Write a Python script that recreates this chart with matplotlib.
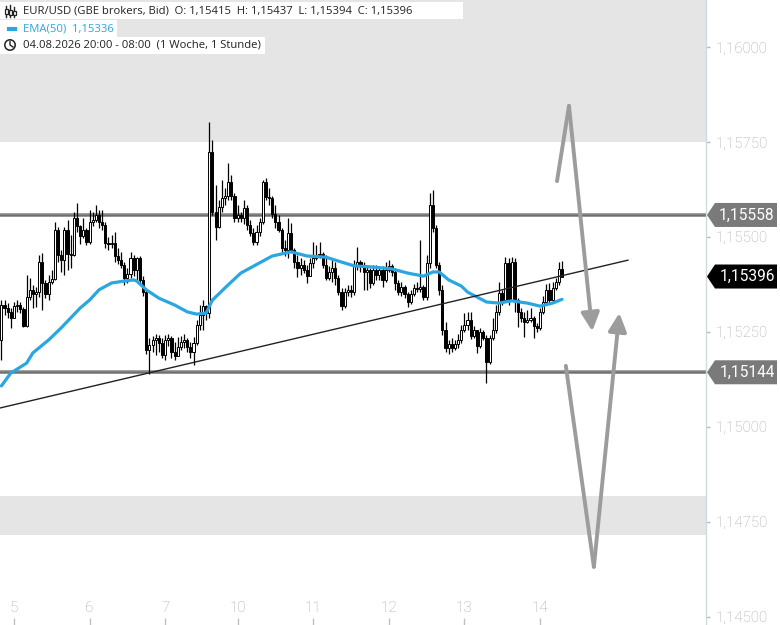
import numpy as np
import matplotlib
matplotlib.use("Agg")
import matplotlib.pyplot as plt
from matplotlib.patches import Rectangle, Polygon, Circle
from matplotlib.lines import Line2D
from matplotlib.ticker import FuncFormatter, FixedLocator
from matplotlib.transforms import IdentityTransform

plt.rcParams['font.family'] = ['Roboto', 'DejaVu Sans']

# ---------------- data (hourly candles, EUR/USD) ----------------
first_open = 1.15229
closes = [
    1.15321, 1.15313, 1.15303, 1.15287, 1.15318, 1.15321, 1.15311, 1.15266, 1.15342, 1.15361,
    1.15350, 1.15355, 1.15434, 1.15379, 1.15350, 1.15382, 1.15389, 1.15518, 1.15453, 1.15439,
    1.15518, 1.15455, 1.15453, 1.15550, 1.15529, 1.15503, 1.15518, 1.15487, 1.15539, 1.15545,
    1.15558, 1.15539, 1.15532, 1.15484, 1.15482, 1.15484, 1.15450, 1.15439, 1.15426, 1.15392,
    1.15403, 1.15445, 1.15413, 1.15445, 1.15387, 1.15355, 1.15203, 1.15216, 1.15229, 1.15234,
    1.15221, 1.15189, 1.15229, 1.15234, 1.15197, 1.15187, 1.15211, 1.15224, 1.15229, 1.15211,
    1.15197, 1.15221, 1.15268, 1.15295, 1.15318, 1.15300, 1.15724, 1.15566, 1.15526, 1.15579,
    1.15603, 1.15608, 1.15645, 1.15608, 1.15550, 1.15558, 1.15550, 1.15576, 1.15532, 1.15511,
    1.15487, 1.15513, 1.15539, 1.15645, 1.15605, 1.15603, 1.15561, 1.15539, 1.15518, 1.15471,
    1.15466, 1.15511, 1.15466, 1.15434, 1.15418, 1.15426, 1.15413, 1.15397, 1.15432, 1.15445,
    1.15453, 1.15455, 1.15426, 1.15392, 1.15408, 1.15418, 1.15392, 1.15355, 1.15318, 1.15355,
    1.15361, 1.15355, 1.15426, 1.15434, 1.15424, 1.15408, 1.15413, 1.15379, 1.15413, 1.15400,
    1.15413, 1.15387, 1.15413, 1.15424, 1.15408, 1.15379, 1.15355, 1.15368, 1.15350, 1.15329,
    1.15350, 1.15366, 1.15363, 1.15368, 1.15342, 1.15432, 1.15584, 1.15524, 1.15426, 1.15361,
    1.15255, 1.15208, 1.15218, 1.15208, 1.15218, 1.15229, 1.15255, 1.15268, 1.15282, 1.15239,
    1.15255, 1.15213, 1.15250, 1.15234, 1.15171, 1.15234, 1.15255, 1.15303, 1.15353, 1.15334,
    1.15432, 1.15334, 1.15434, 1.15334, 1.15303, 1.15287, 1.15276, 1.15282, 1.15287, 1.15266,
    1.15261, 1.15303, 1.15329, 1.15361, 1.15334, 1.15366, 1.15382, 1.15415, 1.15396,
]
highs = [
    1.15334, 1.15334, 1.15326, 1.15313, 1.15329, 1.15334, 1.15329, 1.15316, 1.15400, 1.15392,
    1.15374, 1.15368, 1.15453, 1.15458, 1.15387, 1.15400, 1.15413, 1.15539, 1.15526, 1.15466,
    1.15526, 1.15545, 1.15505, 1.15566, 1.15589, 1.15532, 1.15550, 1.15524, 1.15571, 1.15566,
    1.15584, 1.15571, 1.15571, 1.15539, 1.15500, 1.15505, 1.15513, 1.15471, 1.15461, 1.15434,
    1.15418, 1.15461, 1.15453, 1.15447, 1.15450, 1.15397, 1.15361, 1.15234, 1.15239, 1.15245,
    1.15242, 1.15234, 1.15242, 1.15245, 1.15239, 1.15224, 1.15237, 1.15239, 1.15245, 1.15234,
    1.15224, 1.15237, 1.15282, 1.15321, 1.15334, 1.15321, 1.15803, 1.15755, 1.15637, 1.15597,
    1.15650, 1.15629, 1.15695, 1.15663, 1.15616, 1.15584, 1.15566, 1.15597, 1.15584, 1.15545,
    1.15524, 1.15532, 1.15550, 1.15650, 1.15655, 1.15629, 1.15608, 1.15584, 1.15558, 1.15524,
    1.15492, 1.15550, 1.15537, 1.15471, 1.15453, 1.15445, 1.15439, 1.15426, 1.15445, 1.15487,
    1.15479, 1.15487, 1.15461, 1.15453, 1.15424, 1.15445, 1.15434, 1.15400, 1.15366, 1.15366,
    1.15374, 1.15374, 1.15439, 1.15474, 1.15439, 1.15434, 1.15426, 1.15418, 1.15426, 1.15426,
    1.15424, 1.15424, 1.15434, 1.15439, 1.15429, 1.15418, 1.15387, 1.15382, 1.15374, 1.15355,
    1.15361, 1.15376, 1.15382, 1.15492, 1.15374, 1.15453, 1.15616, 1.15624, 1.15532, 1.15434,
    1.15374, 1.15276, 1.15229, 1.15234, 1.15229, 1.15245, 1.15268, 1.15300, 1.15303, 1.15303,
    1.15266, 1.15255, 1.15261, 1.15255, 1.15242, 1.15242, 1.15287, 1.15321, 1.15382, 1.15361,
    1.15447, 1.15445, 1.15447, 1.15445, 1.15339, 1.15313, 1.15303, 1.15308, 1.15313, 1.15292,
    1.15274, 1.15313, 1.15345, 1.15376, 1.15379, 1.15382, 1.15392, 1.15434, 1.15437,
]
lows = [
    1.15176, 1.15295, 1.15287, 1.15261, 1.15292, 1.15303, 1.15300, 1.15263, 1.15263, 1.15334,
    1.15313, 1.15316, 1.15342, 1.15308, 1.15339, 1.15334, 1.15376, 1.15387, 1.15434, 1.15408,
    1.15400, 1.15413, 1.15418, 1.15450, 1.15513, 1.15482, 1.15497, 1.15479, 1.15482, 1.15529,
    1.15539, 1.15524, 1.15518, 1.15471, 1.15466, 1.15471, 1.15434, 1.15429, 1.15418, 1.15374,
    1.15379, 1.15392, 1.15397, 1.15387, 1.15376, 1.15345, 1.15192, 1.15139, 1.15197, 1.15189,
    1.15197, 1.15182, 1.15176, 1.15213, 1.15182, 1.15176, 1.15197, 1.15203, 1.15208, 1.15197,
    1.15182, 1.15163, 1.15216, 1.15255, 1.15255, 1.15282, 1.15287, 1.15558, 1.15492, 1.15524,
    1.15566, 1.15584, 1.15597, 1.15597, 1.15539, 1.15539, 1.15539, 1.15534, 1.15518, 1.15503,
    1.15479, 1.15479, 1.15503, 1.15534, 1.15597, 1.15584, 1.15550, 1.15524, 1.15513, 1.15461,
    1.15450, 1.15445, 1.15461, 1.15418, 1.15395, 1.15400, 1.15405, 1.15379, 1.15408, 1.15418,
    1.15439, 1.15445, 1.15418, 1.15387, 1.15387, 1.15382, 1.15374, 1.15347, 1.15308, 1.15313,
    1.15345, 1.15342, 1.15347, 1.15413, 1.15408, 1.15361, 1.15361, 1.15366, 1.15374, 1.15387,
    1.15387, 1.15368, 1.15382, 1.15408, 1.15397, 1.15361, 1.15347, 1.15345, 1.15339, 1.15316,
    1.15324, 1.15345, 1.15355, 1.15355, 1.15334, 1.15334, 1.15418, 1.15513, 1.15418, 1.15347,
    1.15242, 1.15197, 1.15192, 1.15197, 1.15203, 1.15208, 1.15221, 1.15250, 1.15255, 1.15232,
    1.15234, 1.15195, 1.15208, 1.15229, 1.15116, 1.15166, 1.15229, 1.15247, 1.15295, 1.15321,
    1.15329, 1.15321, 1.15334, 1.15303, 1.15263, 1.15276, 1.15237, 1.15274, 1.15276, 1.15234,
    1.15250, 1.15255, 1.15297, 1.15324, 1.15324, 1.15329, 1.15361, 1.15374, 1.15394,
]

# EMA(50) line (candle index, value)
ema_idx = [0, 3, 8, 10, 15, 19, 22, 25, 28, 31, 35, 39, 42, 43, 46, 50, 55, 59, 62, 65,
           67, 72, 76, 82, 86, 92, 97, 103, 108, 112, 118, 124, 129, 134, 137, 139, 142,
           146, 148, 154, 158, 162, 167, 171, 175, 178]
ema_vals = [1.15108, 1.15142, 1.15168, 1.15195, 1.15229, 1.15261, 1.15287, 1.15313, 1.15334,
            1.15361, 1.15379, 1.15384, 1.15387, 1.15384, 1.15361, 1.15339, 1.15321, 1.15303,
            1.15297, 1.15300, 1.15334, 1.15374, 1.15405, 1.15432, 1.15450, 1.15461, 1.15450,
            1.15447, 1.15434, 1.15424, 1.15421, 1.15416, 1.15405, 1.15397, 1.15408, 1.15408,
            1.15387, 1.15371, 1.15355, 1.15329, 1.15326, 1.15332, 1.15326, 1.15318, 1.15326,
            1.15336]

day_tick_idx = [4, 28, 52, 75, 99, 123, 147, 171]
day_labels = ['5', '6', '7', '10', '11', '12', '13', '14']
y_ticks = [1.1450, 1.1475, 1.1500, 1.1525, 1.1550, 1.1575, 1.1600]

resistance = 1.15558
support = 1.15144
last_price = 1.15396
upper_zone_bottom = 1.1575
lower_zone = (1.14716, 1.14818)

legend_row1 = "EUR/USD (GBE brokers, Bid)  O: 1,15415  H: 1,15437  L: 1,15394  C: 1,15396"
legend_row2 = "EMA(50)  1,15336"
legend_row3 = "04.08.2026 20:00 - 08:00  (1 Woche, 1 Stunde)"

# ---------------- figure ----------------
W, H = 780, 625
fig = plt.figure(figsize=(W / 100, H / 100), dpi=100)
fig.patch.set_facecolor('white')
ax = fig.add_axes([0, 0, 706 / W, 1])
ax.set_facecolor('white')

YMIN, YMAX = 1.144789, 1.161237
XMIN, XMAX = -0.44, 223.7
ax.set_xlim(XMIN, XMAX)
ax.set_ylim(YMIN, YMAX)

# zones
ax.axhspan(upper_zone_bottom, YMAX, color='#e5e5e5', lw=0, zorder=0)
ax.axhspan(lower_zone[0], lower_zone[1], color='#e5e5e5', lw=0, zorder=0)

# horizontal levels
for lv in (resistance, support):
    ax.axhline(lv, color='#8a8a8a', lw=2.6, zorder=1)
    ax.axhline(lv, color='#6e6e6e', lw=1.0, zorder=1)

# candles
n = len(closes)
x = np.arange(n)
opens = np.array([first_open] + closes[:-1])
c = np.array(closes)
hi = np.array(highs)
lo = np.array(lows)
ax.vlines(x, lo, hi, color='black', lw=0.9, zorder=3)
bottoms = np.minimum(opens, c)
heights = np.maximum(np.abs(c - opens), 0.00002)
fills = ['white' if cc >= oo else 'black' for oo, cc in zip(opens, c)]
ax.bar(x, heights, bottom=bottoms, width=0.68, color=fills, edgecolor='black',
       linewidth=0.7, zorder=4)

# EMA
ax.plot(ema_idx, ema_vals, color='#2aa6e0', lw=2.3, zorder=5, solid_capstyle='round')

# trend line
ax.plot([-0.44, 198.9], [1.15050, 1.15439], color='#222222', lw=1.0, zorder=6)

# gray scenario arrows
acol = '#9c9c9c'
astyle = '-|>,head_length=1.0,head_width=0.5'
ax.plot([176.4, 180.2], [1.15647, 1.15845], color=acol, lw=2.8, zorder=6,
        solid_capstyle='round')
ax.annotate('', xy=(187.6, 1.15252), xytext=(180.2, 1.15845),
            arrowprops=dict(arrowstyle=astyle, lw=2.8, color=acol, shrinkA=0, shrinkB=0,
                            mutation_scale=11), zorder=6)
ax.plot([179.2, 188.1], [1.15161, 1.14632], color=acol, lw=2.8, zorder=6,
        solid_capstyle='round')
ax.annotate('', xy=(196.2, 1.15300), xytext=(188.1, 1.14632),
            arrowprops=dict(arrowstyle=astyle, lw=2.8, color=acol, shrinkA=0, shrinkB=0,
                            mutation_scale=11), zorder=6)

# axes styling
for s in ('top', 'left', 'bottom'):
    ax.spines[s].set_visible(False)
ax.spines['right'].set_color('#d3d9e0')
ax.spines['right'].set_linewidth(1.0)

ax.yaxis.set_major_locator(FixedLocator(y_ticks))
ax.yaxis.set_major_formatter(FuncFormatter(lambda v, p: f"{v:.5f}".replace('.', ',')))
ax.tick_params(axis='y', left=False, right=True, labelleft=False, labelright=True,
               length=3, width=1, color='#b8b8b8', labelcolor='#a9a9a9',
               labelsize=10.8, pad=4)
ax.set_xticks(day_tick_idx)
ax.set_xticklabels(day_labels)
ax.tick_params(axis='x', direction='in', length=5, width=1, color='#c0c0c0',
               labelcolor='#a9a9a9', labelsize=11, pad=-17)
for lab in ax.get_yticklabels() + ax.get_xticklabels():
    lab.set_fontweight('light')

fig.canvas.draw()


def px(xp, yp):
    """figure pixel (from top-left) -> display coords"""
    return (xp, H - yp)


# right side price tags
def tag(price, color):
    yd = ax.transData.transform((0, price))[1]
    x0 = 706
    pts = [(x0 + 1, yd), (x0 + 9, yd + 12), (x0 + 71, yd + 12), (x0 + 71, yd - 12),
           (x0 + 9, yd - 12)]
    fig.add_artist(Polygon(pts, closed=True, transform=IdentityTransform(),
                           facecolor=color, edgecolor='none', zorder=10))
    fig.text((x0 + 41) / W, yd / H, f"{price:.5f}".replace('.', ','), color='white',
             fontsize=11.2, ha='center', va='center', zorder=11)


tag(resistance, '#7a7a7a')
tag(last_price, '#000000')
tag(support, '#7a7a7a')

# legend boxes
for (x1, y1, y2) in [(463, 2, 19), (117, 20, 37), (265, 37, 54)]:
    fig.add_artist(Rectangle(px(0, y2), x1, y2 - y1, transform=IdentityTransform(),
                             facecolor='white', edgecolor='none', zorder=10))

lfam = ['Open Sans', 'DejaVu Sans']
fig.text(23 / W, 1 - 11 / H, legend_row1, fontsize=8.1, color='#222222', family=lfam,
         va='center', ha='left', zorder=11)
fig.text(23 / W, 1 - 29 / H, legend_row2, fontsize=8.1, color='#2aa6e0', family=lfam,
         va='center', ha='left', zorder=11)
fig.text(23 / W, 1 - 45 / H, legend_row3, fontsize=8.1, color='#222222', family=lfam,
         va='center', ha='left', zorder=11)

# legend icons
icon_lines = [((6, 6), (6, 17)), ((10, 5), (10, 17)), ((14, 7), (14, 17))]
for (a, b) in icon_lines:
    fig.add_artist(Line2D([a[0], b[0]], [H - a[1], H - b[1]], transform=IdentityTransform(),
                          color='#222222', lw=1.0, zorder=12))
for (cx, y1, y2) in [(6, 9, 14), (10, 10, 15), (14, 11, 15)]:
    fig.add_artist(Rectangle((cx - 1.5, H - y2), 3, y2 - y1, transform=IdentityTransform(),
                             facecolor='white', edgecolor='#222222', lw=0.9, zorder=13))
fig.add_artist(Line2D([9, 15], [H - 29, H - 29], transform=IdentityTransform(),
                      color='#2aa6e0', lw=3, zorder=12))
fig.add_artist(Circle((10, H - 45), 5.2, transform=IdentityTransform(), facecolor='none',
                      edgecolor='#222222', lw=1.1, zorder=12))
fig.add_artist(Line2D([10, 10, 13], [H - 41.5, H - 45, H - 47], transform=IdentityTransform(),
                      color='#222222', lw=1.0, zorder=12))

fig.savefig('out.png', dpi=100, facecolor='white')
